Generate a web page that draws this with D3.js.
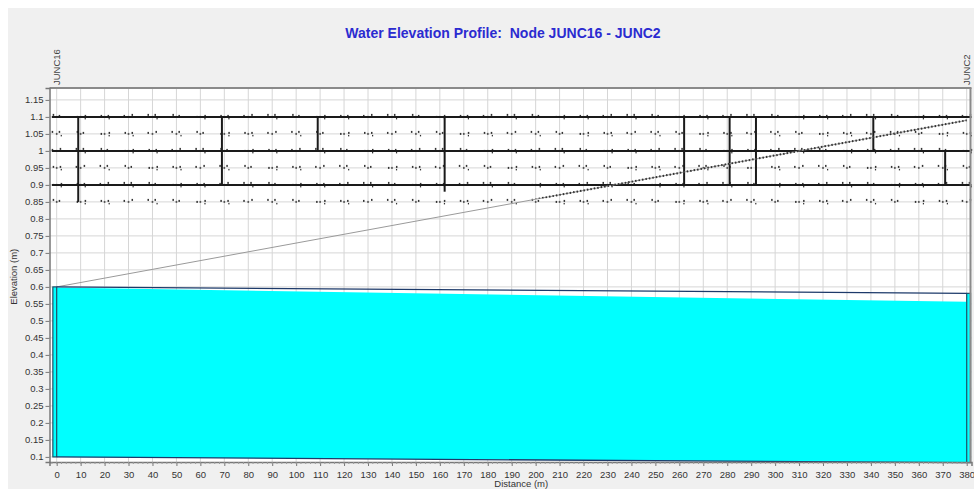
<!DOCTYPE html>
<html><head><meta charset="utf-8">
<script src="https://cdn.jsdelivr.net/npm/d3@7"></script>
<style>body{margin:0;background:#fff;overflow:hidden}svg{display:block}</style>
</head><body>
<script>
// ---- data ----
const chartTitle = "Water Elevation Profile:\u00a0\u00a0Node JUNC16 - JUNC2";
const nodeNames = ["JUNC16", "JUNC2"];
const nodeDistances = [0, 380];
const invertElev = [0.1, 0.083];
const crownElev = [0.6, 0.581];
const waterElev = [0.598, 0.556];
const groundElev = [0.6, 1.09];
const xTickValues = d3.range(0, 381, 10);
const yTickValues = d3.range(0.1, 1.151, 0.05).map(v => +v.toFixed(2));
// glitch band seen in the reference (thick black overlay lines)
const bandLevels = [1.1, 1.0, 0.9];
const bandVerticals = [[9, 1.1, 0.85], [69, 1.1, 0.9], [109, 1.1, 1.0], [162, 1.1, 0.88], [262, 1.1, 0.9], [281, 1.1, 0.9], [292, 1.1, 0.9], [341, 1.1, 1.0], [371, 1.0, 0.9]];
const bandNoiseLevels = [1.1, 1.05, 1.0, 0.95, 0.9, 0.85];

const W = 974, H = 489;
const FONT = "'Liberation Sans', Arial, sans-serif";
const svg = d3.select("body").append("svg").attr("width", W).attr("height", H)
  .style("font-family", FONT);

svg.append("rect").attr("x", 8).attr("y", 8).attr("width", W - 8).attr("height", H - 8).attr("fill", "#f0f0f0");

const x = d3.scaleLinear().domain([-3, 382]).range([49.5, 971.5]);
const y = d3.scaleLinear().domain([0.085, 1.185]).range([462, 88]);
const [x0, x1] = x.range(), [yb, yt] = y.range();

svg.append("rect").attr("x", x0).attr("y", yt).attr("width", x1 - x0).attr("height", yb - yt).attr("fill", "#fff");

// grid
const g = svg.append("g");
g.selectAll(".vg").data(xTickValues).join("line")
  .attr("x1", d => x(d)).attr("x2", d => x(d)).attr("y1", yt).attr("y2", yb)
  .attr("stroke", "#d6d6d6").attr("stroke-width", 1);
g.selectAll(".hg").data(yTickValues).join("line")
  .attr("x1", x0).attr("x2", x1).attr("y1", d => y(d)).attr("y2", d => y(d))
  .attr("stroke", "#d6d6d6").attr("stroke-width", 1);

// glitch band noise at grid intersections
const noise = svg.append("g").attr("fill", "#333");
xTickValues.forEach((xd, i) => {
  bandNoiseLevels.forEach((yd, j) => {
    const px = x(xd), py = y(yd);
    const k = (i * 7 + j * 3) % 5;
    noise.append("rect").attr("x", px - 4 - (k % 2)).attr("y", py - 3 + (k % 3)).attr("width", 1.5).attr("height", 2);
    noise.append("rect").attr("x", px + 2 + (k % 3)).attr("y", py - 2 - (k % 2)).attr("width", 1.5).attr("height", 2);
    if (k > 1) noise.append("rect").attr("x", px + 4).attr("y", py + 1).attr("width", 1.2).attr("height", 1.5);
    noise.append("rect").attr("x", px - 0.8).attr("y", py - 1).attr("width", 1.6).attr("height", 2).attr("fill", "#555");
  });
});
svg.append("g").selectAll("line").data(bandLevels).join("line")
  .attr("x1", x(-2)).attr("x2", x1).attr("y1", d => y(d)).attr("y2", d => y(d))
  .attr("stroke", "#1a1a1a").attr("stroke-width", 2);
svg.append("g").selectAll("line").data(bandVerticals).join("line")
  .attr("x1", d => x(d[0])).attr("x2", d => x(d[0])).attr("y1", d => y(d[1])).attr("y2", d => y(d[2]))
  .attr("stroke", "#1a1a1a").attr("stroke-width", 2);

// ground line
const groundPts = nodeDistances.map((d, i) => [d, groundElev[i]]);
svg.append("clipPath").attr("id", "bandclip").append("rect")
  .attr("x", x(185)).attr("y", y(1.12)).attr("width", x1 - x(185)).attr("height", y(0.86) - y(1.12));
svg.append("path").datum(groundPts)
  .attr("d", d3.line().x(d => x(d[0])).y(d => y(d[1])))
  .attr("fill", "none").attr("stroke", "#9a9a9a").attr("stroke-width", 1);
svg.append("path").datum(groundPts)
  .attr("d", d3.line().x(d => x(d[0])).y(d => y(d[1])))
  .attr("fill", "none").attr("stroke", "#333").attr("stroke-width", 2)
  .attr("stroke-dasharray", "1.5,2")
  .attr("clip-path", "url(#bandclip)");

// water area in conduit
const waterPts = nodeDistances.map((d, i) => ({d, lo: invertElev[i], hi: waterElev[i]}));
svg.append("path").datum(waterPts)
  .attr("d", d3.area().x(d => x(d.d)).y0(d => y(d.lo)).y1(d => y(d.hi)))
  .attr("fill", "#00ffff");
// node boxes
const nodeBoxes = [
  {a: -1.6, b: 0, lo: invertElev[0], hi: crownElev[0]},
  {a: 380, b: 381.6, lo: invertElev[1], hi: crownElev[1]}
];
svg.append("g").selectAll("rect").data(nodeBoxes).join("rect")
  .attr("x", d => x(d.a)).attr("y", d => y(d.hi)).attr("width", d => x(d.b) - x(d.a))
  .attr("height", d => y(d.lo) - y(d.hi))
  .attr("fill", "#00ffff").attr("stroke", "#1d4f66").attr("stroke-width", 1.2);
// conduit crown and invert lines
const lineGen = d3.line().x(d => x(d[0])).y(d => y(d[1]));
svg.append("path").datum(nodeDistances.map((d, i) => [d, crownElev[i]]))
  .attr("d", lineGen).attr("fill", "none").attr("stroke", "#1d3a6a").attr("stroke-width", 1.3);
svg.append("path").datum(nodeDistances.map((d, i) => [d, invertElev[i]]))
  .attr("d", lineGen).attr("fill", "none").attr("stroke", "#1d3a6a").attr("stroke-width", 1.3);

// frame
svg.append("line").attr("x1", x0).attr("x2", x1).attr("y1", yt).attr("y2", yt).attr("stroke", "#8a8a8a").attr("stroke-width", 2);
svg.append("line").attr("x1", x1 - 1).attr("x2", x1 - 1).attr("y1", yt).attr("y2", yb).attr("stroke", "#8a8a8a").attr("stroke-width", 2);

// axes
const xAxis = d3.axisBottom(x).tickValues(xTickValues).tickSize(4).tickPadding(5).tickFormat(d3.format("d"));
const gx = svg.append("g").attr("transform", `translate(0,${yb})`).call(xAxis);
gx.select(".domain").attr("stroke", "#777").attr("stroke-width", 1.5);
gx.selectAll(".tick line").attr("stroke", "#777");
gx.selectAll("text").attr("font-size", 9.5).attr("fill", "#333").attr("font-family", FONT);
svg.append("g").selectAll("line").data(d3.range(-2, 382, 2)).join("line")
  .attr("x1", d => x(d)).attr("x2", d => x(d)).attr("y1", yb).attr("y2", yb + 2).attr("stroke", "#999");

const yAxis = d3.axisLeft(y).tickValues(yTickValues).tickSize(4).tickPadding(2).tickFormat(d => d3.format("")(d));
const gy = svg.append("g").attr("transform", `translate(${x0},0)`).call(yAxis);
gy.select(".domain").attr("stroke", "#777").attr("stroke-width", 1.5);
gy.selectAll(".tick line").attr("stroke", "#777");
gy.selectAll("text").attr("font-size", 9.5).attr("fill", "#333").attr("font-family", FONT);

// titles
svg.append("text").attr("x", 503).attr("y", 38).attr("text-anchor", "middle")
  .attr("font-size", 14).attr("font-weight", "bold").attr("fill", "#2b2bd0").text(chartTitle);
svg.append("text").attr("transform", `translate(${x(194)},${H - 2})`).attr("text-anchor", "middle")
  .attr("font-size", 9.5).attr("fill", "#333").text("Distance (m)");
svg.append("text").attr("transform", `translate(17,${y(0.63)}) rotate(-90)`).attr("text-anchor", "middle")
  .attr("font-size", 9.5).attr("fill", "#333").text("Elevation (m)");

// node labels
svg.append("g").selectAll("text").data(nodeNames).join("text")
  .attr("transform", (d, i) => `translate(${x(nodeDistances[i]) + 3},${yt - 3}) rotate(-90)`)
  .attr("font-size", 9.5).attr("fill", "#444").text(d => d);
</script>
</body></html>
